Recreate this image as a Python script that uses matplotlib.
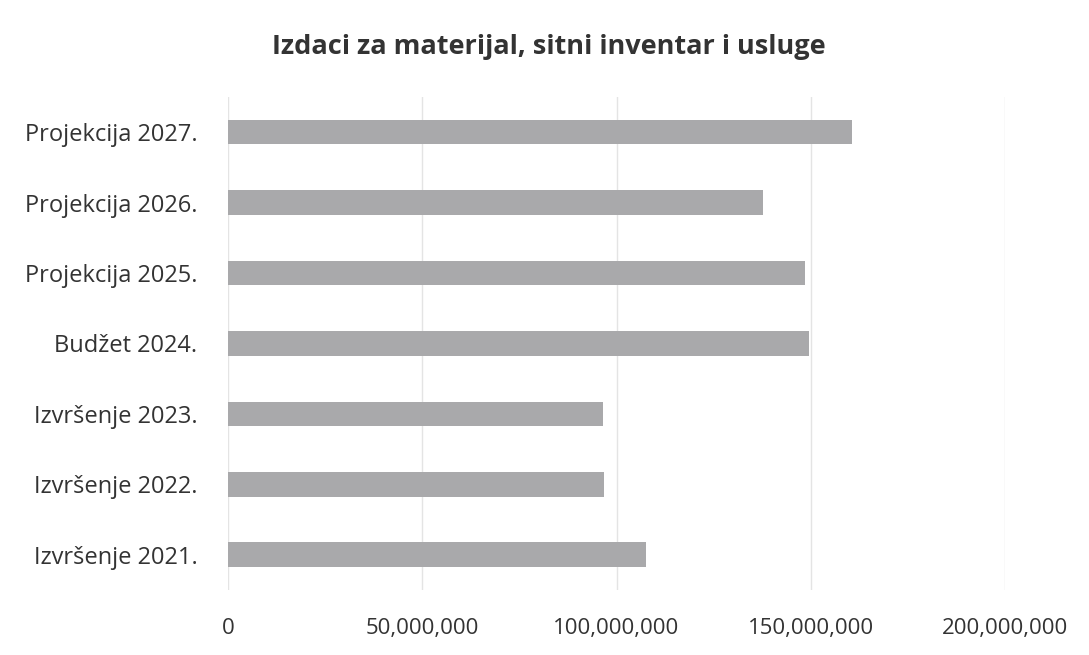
import matplotlib.pyplot as plt
from matplotlib.ticker import FuncFormatter

categories = ["Izvršenje 2021.", "Izvršenje 2022.", "Izvršenje 2023.", "Budžet 2024.",
              "Projekcija 2025.", "Projekcija 2026.", "Projekcija 2027."]
values = [107.6e6, 96.8e6, 96.5e6, 149.5e6, 148.5e6, 137.7e6, 160.6e6]
xticks = [0, 50e6, 100e6, 150e6, 200e6]

plt.rcParams['font.family'] = ['Open Sans', 'DejaVu Sans']

fig = plt.figure(figsize=(10.89, 6.55), dpi=100)
ax = fig.add_axes([0.2094, 0.0992, 0.7135, 0.7528])

ax.barh(range(len(categories)), values, height=0.35, color="#a9a9ab", zorder=2)

ax.set_xlim(0, 200e6)
ax.set_ylim(-0.5, len(categories) - 0.5)
ax.set_xticks(xticks)
ax.xaxis.set_major_formatter(FuncFormatter(lambda v, p: f"{v:,.0f}"))
ax.set_yticks(range(len(categories)))
ax.set_yticklabels(categories)
ax.tick_params(axis="x", length=0, pad=20, labelsize=16, colors="#333333")
ax.tick_params(axis="y", length=0, pad=22, labelsize=17, colors="#333333")
ax.grid(axis="x", color="#e4e4e4", linewidth=1, zorder=0)
for s in ax.spines.values():
    s.set_visible(False)

fig.suptitle("Izdaci za materijal, sitni inventar i usluge", x=0.504, y=0.928, va="center",
             fontsize=19.5, fontweight="bold", color="#333333")

fig.savefig("out.png", dpi=100)
